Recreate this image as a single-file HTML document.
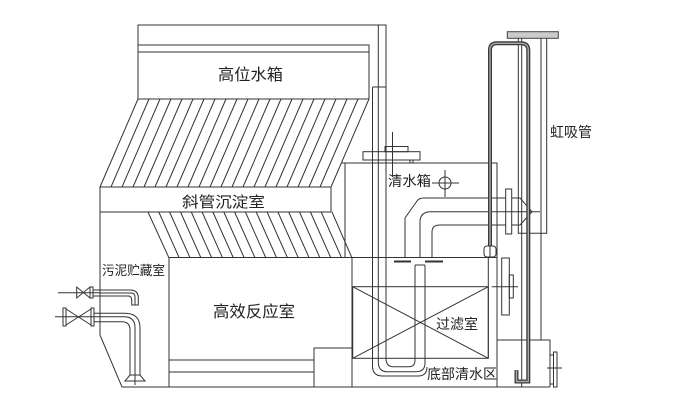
<!DOCTYPE html>
<html>
<head>
<meta charset="utf-8">
<style>
  html,body{margin:0;padding:0;background:#fff;}
  svg{display:block;}
  text{font-family:"Liberation Sans","Noto Sans CJK SC",sans-serif;fill:#222;}
</style>
</head>
<body>
<svg width="673" height="418" viewBox="0 0 673 418" xmlns="http://www.w3.org/2000/svg">
<rect width="673" height="418" fill="#fff"/>
<g fill="none" stroke="#333" stroke-width="1">
  <!-- top frame / high tank -->
  <path d="M138,99V25H386V87H372.5"/>
  <path d="M138,45H369V99M138,52H369"/>
  <!-- upper inclined-tube parallelogram -->
  <path d="M138,99H369L331,187M138,99L100,187"/>
  <path d="M149,99L111,187M160,99L122,187M171,99L133,187M182,99L144,187M193,99L155,187M204,99L166,187M215,99L177,187M226,99L188,187M237,99L199,187M248,99L210,187M259,99L221,187M270,99L232,187M281,99L243,187M292,99L254,187M303,99L265,187M314,99L276,187M325,99L287,187M336,99L298,187M347,99L309,187M358,99L320,187"/>
  <!-- 斜管沉淀室 box -->
  <rect x="100" y="187" width="231" height="25"/>
  <!-- lower hatch -->
  <path d="M148,212L169,258M332,212L352,258"/>
  <path d="M158.8,212L179.3,258M169.6,212L190.1,258M180.5,212L201,258M191.3,212L211.8,258M202.1,212L222.6,258M212.9,212L233.4,258M223.8,212L244.3,258M234.6,212L255.1,258M245.4,212L265.9,258M256.2,212L276.7,258M267.1,212L287.6,258M277.9,212L298.4,258M288.7,212L309.2,258M299.5,212L320,258M310.4,212L330.9,258M321.2,212L341.7,258"/>
  <!-- left outer wall and bottom -->
  <path d="M100,212V335L122,387H550"/>
  <!-- reaction chamber -->
  <path d="M169,258V387M169,257.5H497"/>
  <path d="M352,258V387"/>
  <path d="M169,360H314M169,372H314"/>
  <path d="M314,387V348H352"/>
  <!-- clear water tank -->
  <path d="M342,163H497V387"/>
  <path d="M345,163V257"/>
  <!-- filter box -->
  <rect x="352.7" y="286.7" width="135.6" height="71.6"/>
  <path d="M352.7,286.7L488.3,358.3M352.7,358.3L488.3,286.7"/>
  <path d="M488.3,257V358.3"/>
  <!-- nested U pipes -->
  <path d="M372.5,87V366Q372.5,376 382.5,376H418Q427,376 427,367"/>
  <path d="M378.3,25V362Q378.3,371.7 387,371.7H416Q425,371.7 425,363V265"/>
  <path d="M386,25V358Q386,366.7 393,366.7H409Q415,366.7 415,360V265"/>
  <path d="M415,265H425"/>
  <!-- flange bars at filter top -->
  <path d="M394,261.5H411M425,261.5H443" stroke-width="2"/>
  <!-- flange on tank top -->
  <rect x="363" y="151.7" width="57" height="8.3"/>
  <rect x="385" y="146.5" width="23" height="5.2"/>
  <path d="M392.5,132V177"/>
  <rect x="410" y="160" width="3" height="3"/>
  <!-- circle symbol -->
  <circle cx="445" cy="183" r="6"/>
  <path d="M432,183H459M445,170V197"/>
  <!-- outlet pipe -->
  <path d="M405,257V218L417,201Q419,198 424,198H505.7"/>
  <path d="M420,257V222Q420,211.7 431,211.7H540"/>
  <path d="M432,257V232Q432,225 440,225H505.7"/>
  <rect x="505.7" y="189" width="6" height="45"/>
  <path d="M511.7,198H520L532,211.7L520,225H511.7"/>
  <!-- right column -->
  <path d="M518.3,38.3V233.3H546.7V38.3"/>
  <path d="M521.7,38.3V387"/>
  <path d="M541,38.3V340"/>
  <!-- middle flange -->
  <rect x="501.7" y="258" width="7.6" height="57"/>
  <rect x="509.3" y="275" width="4" height="23"/>
  <path d="M491.7,286.7H518"/>
  <!-- bottom right box & flange -->
  <path d="M497,340H550V387"/>
  <rect x="550" y="355" width="3.5" height="29"/>
  <rect x="553.5" y="352" width="3.5" height="35"/>
  <path d="M547,368H562"/>
  <!-- upper valve + pipe -->
  <path d="M58,292.7H100"/>
  <path d="M76.7,287V298L90,287V298Z"/>
  <rect x="90" y="287" width="3" height="11"/>
  <path d="M93,290H130Q138.3,290 138.3,298V305H131.7V300Q131.7,296 128,296H93"/>
  <path d="M100,293H131Q135,293 135,297V305"/>
  <!-- lower valve + pipe -->
  <path d="M55,316.7H100"/>
  <path d="M66,309V325L91,309V325Z"/>
  <rect x="63" y="308" width="3" height="18"/>
  <rect x="91" y="308" width="3" height="18"/>
  <path d="M94,313.3H125Q140,313.3 140,328V375"/>
  <path d="M94,321.7H122Q130,321.7 130,330V375"/>
  <path d="M100,316.7H124Q135,316.7 135,328V385"/>
  <path d="M130,375L125,381H145L140,375Z"/>
</g>
<!-- top flange of siphon column -->
<rect x="507.3" y="31.7" width="51" height="6.6" fill="#ccc" stroke="#444" stroke-width="1"/>
<!-- siphon pipe -->
<path d="M490,252V50Q490,43.3 497,43.3H521Q528.3,43.3 528.3,50.5V381.5H516.5V370" fill="none" stroke="#3a3a3a" stroke-width="4"/>
<path d="M490,252V50Q490,43.3 497,43.3H521Q528.3,43.3 528.3,50.5V381.5H516.5V370" fill="none" stroke="#aaa" stroke-width="1.4"/>
<rect x="484" y="246" width="12" height="11" rx="3" fill="#fff" stroke="#333" stroke-width="1"/>
<path d="M490,246V257" stroke="#333" stroke-width="1"/>
<!-- labels -->
<text x="218" y="80" font-size="16" textLength="65" lengthAdjust="spacingAndGlyphs">高位水箱</text>
<text x="182" y="207" font-size="15" textLength="83" lengthAdjust="spacingAndGlyphs">斜管沉淀室</text>
<text x="102" y="275" font-size="13" textLength="63" lengthAdjust="spacingAndGlyphs">污泥贮藏室</text>
<text x="213" y="317" font-size="16" textLength="82" lengthAdjust="spacingAndGlyphs">高效反应室</text>
<text x="388" y="186" font-size="14" textLength="43" lengthAdjust="spacingAndGlyphs">清水箱</text>
<text x="550" y="137" font-size="14" textLength="42" lengthAdjust="spacingAndGlyphs">虹吸管</text>
<text x="436" y="329" font-size="14" textLength="42" lengthAdjust="spacingAndGlyphs">过滤室</text>
<text x="427" y="379" font-size="14" textLength="70" lengthAdjust="spacingAndGlyphs">底部清水区</text>
</svg>
</body>
</html>
